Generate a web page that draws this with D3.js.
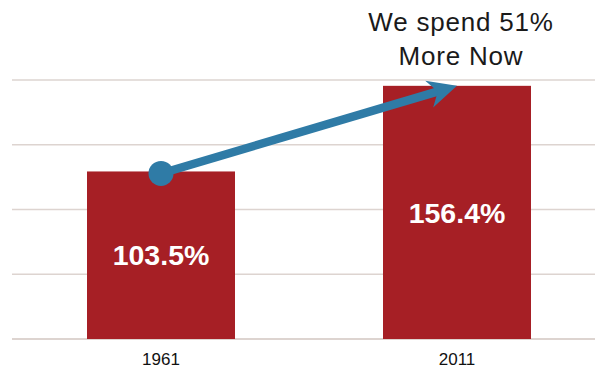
<!DOCTYPE html>
<html>
<head>
<meta charset="utf-8">
<script src="https://cdn.jsdelivr.net/npm/d3@7"></script>
<style>
  html, body { margin: 0; padding: 0; background: #fff; }
  svg { display: block; }
</style>
</head>
<body>
<div id="container"></div>
<script>
const width = 595, height = 368;

// data
const years = ['1961', '2011'];
const values = [103.5, 156.4];
const valueLabels = ['103.5%', '156.4%'];
const gridTicks = [0, 40, 80, 120, 160];
const noteLines = ['We spend 51%', 'More Now'];

const barColor = '#a61f25';
const arrowColor = '#2f7ba6';
const gridColor = '#ddd4d0';

const svg = d3.select('#container')
    .append('svg')
    .attr('width', width)
    .attr('height', height)
    .attr('viewBox', [0, 0, width, height]);

const x = d3.scaleBand()
    .domain(years)
    .range([13, 605])
    .paddingInner(0.5)
    .paddingOuter(0.25);

const y = d3.scaleLinear()
    .domain([0, 160])
    .range([339, 80]);

// gridlines
svg.append('g')
    .selectAll('line')
    .data(gridTicks)
    .join('line')
    .attr('x1', 12)
    .attr('x2', 595)
    .attr('y1', d => y(d))
    .attr('y2', d => y(d))
    .attr('stroke', gridColor)
    .attr('stroke-width', d => d === 0 ? 2 : 1.4);

// bars
svg.append('g')
    .selectAll('rect')
    .data(values)
    .join('rect')
    .attr('x', (d, i) => x(years[i]))
    .attr('y', d => y(d))
    .attr('width', x.bandwidth())
    .attr('height', d => y(0) - y(d))
    .attr('fill', barColor);

// value labels, centred in each bar
svg.append('g')
    .selectAll('text')
    .data(values)
    .join('text')
    .attr('x', (d, i) => x(years[i]) + x.bandwidth() / 2)
    .attr('y', d => (y(d) + y(0)) / 2)
    .attr('dy', '0.36em')
    .attr('text-anchor', 'middle')
    .attr('font-family', '"Liberation Sans", Arial, sans-serif')
    .attr('font-weight', 'bold')
    .attr('font-size', 28.5)
    .attr('fill', '#fff')
    .text((d, i) => valueLabels[i]);

// year labels
svg.append('g')
    .selectAll('text')
    .data(years)
    .join('text')
    .attr('x', d => x(d) + x.bandwidth() / 2)
    .attr('y', 365)
    .attr('text-anchor', 'middle')
    .attr('font-family', '"Liberation Sans", Arial, sans-serif')
    .attr('font-size', 17)
    .attr('fill', '#111')
    .text(d => d);

// arrow from the 1961 bar top to the 2011 bar top
const x0 = x(years[0]) + x.bandwidth() / 2, y0 = y(values[0]) + 2;
const x1 = x(years[1]) + x.bandwidth() / 2, y1 = y(values[1]);
const ang = Math.atan2(y1 - y0, x1 - x0);
const headLen = 29, headHalf = 14, notch = 20;
const ux = Math.cos(ang), uy = Math.sin(ang);
const px = -uy, py = ux;
const baseX = x1 - ux * headLen, baseY = y1 - uy * headLen;
const notchX = x1 - ux * notch, notchY = y1 - uy * notch;

const arrow = svg.append('g');
arrow.append('line')
    .attr('x1', x0).attr('y1', y0)
    .attr('x2', notchX + ux * 2).attr('y2', notchY + uy * 2)
    .attr('stroke', arrowColor)
    .attr('stroke-width', 8.5);
arrow.append('path')
    .attr('d', `M${x1},${y1} L${baseX + px * headHalf},${baseY + py * headHalf} L${notchX},${notchY} L${baseX - px * headHalf},${baseY - py * headHalf} Z`)
    .attr('fill', arrowColor);
arrow.append('circle')
    .attr('cx', x0).attr('cy', y0)
    .attr('r', 12.5)
    .attr('fill', arrowColor);

// annotation
svg.append('text')
    .attr('x', 461)
    .attr('text-anchor', 'middle')
    .attr('font-family', '"Liberation Sans", Arial, sans-serif')
    .attr('font-size', 26)
    .attr('letter-spacing', 0.8)
    .attr('fill', '#1a1a1a')
    .selectAll('tspan')
    .data(noteLines)
    .join('tspan')
    .attr('x', 461)
    .attr('y', (d, i) => 31 + i * 34)
    .text(d => d);
</script>
</body>
</html>
